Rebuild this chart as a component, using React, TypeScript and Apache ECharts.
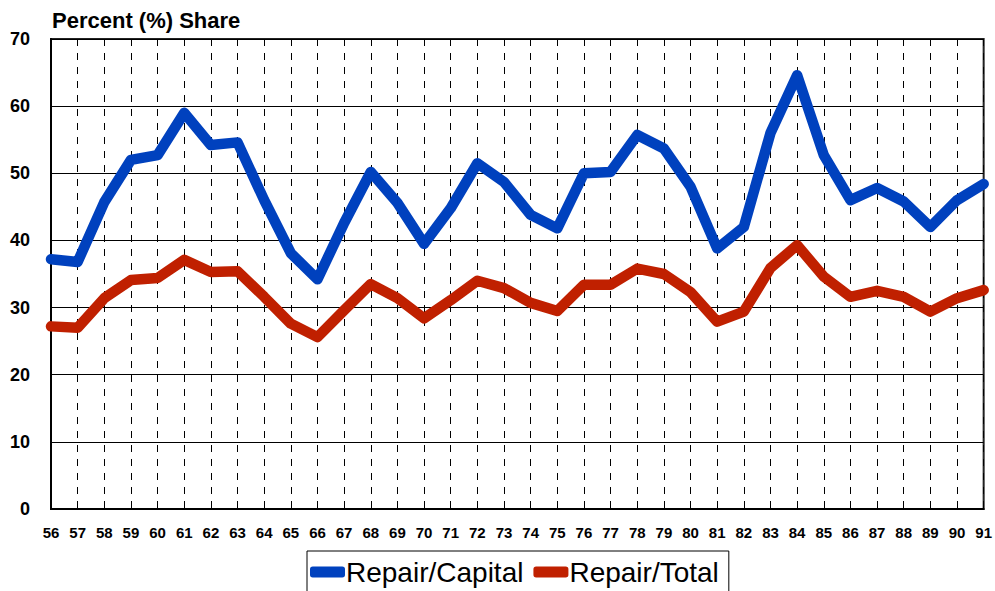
import React, { useEffect, useRef } from "react";
import * as echarts from "echarts";

const years = ["56","57","58","59","60","61","62","63","64","65","66","67","68","69","70","71","72","73","74","75","76","77","78","79","80","81","82","83","84","85","86","87","88","89","90","91"];
const repairCapital = [37.2,36.8,45.7,52.0,52.7,59.0,54.2,54.6,46.0,38.1,34.2,42.6,50.2,45.6,39.5,44.8,51.5,48.7,43.8,41.8,50.0,50.2,55.7,53.7,48.0,38.8,42.0,56.0,64.6,52.7,46.0,47.8,45.8,42.0,46.0,48.4];
const repairTotal = [27.2,27.0,31.4,34.1,34.4,37.1,35.3,35.4,31.6,27.6,25.6,29.6,33.5,31.4,28.4,31.1,34.0,32.9,30.7,29.5,33.4,33.4,35.8,35.0,32.3,27.9,29.4,35.9,39.3,34.6,31.6,32.5,31.6,29.4,31.4,32.6];
const yTicks = { min: 0, max: 70, interval: 10 };
const titleText = "Percent (%) Share";

export default function App() {
  const ref = useRef<HTMLDivElement>(null);
  useEffect(() => {
    if (!ref.current) return;
    const chart = echarts.init(ref.current, null, { renderer: "svg" });
    const font = "'Liberation Sans', Arial, sans-serif";
    chart.setOption({
      animation: false,
      backgroundColor: "#fff",
      title: {
        text: titleText,
        left: 47,
        top: 4,
        textStyle: { fontFamily: font, fontWeight: "bold", fontSize: 22, color: "#000" },
      },
      legend: {
        left: 307,
        top: 551,
        orient: "horizontal",
        borderColor: "#000",
        borderWidth: 1,
        borderRadius: 0,
        padding: [7, 10, 20, 3],
        itemGap: 10,
        itemWidth: 35,
        itemHeight: 11,
        icon: "roundRect",
        textStyle: { fontFamily: font, fontSize: 28, color: "#000", padding: [0, 0, 0, -4] },
        data: ["Repair/Capital", "Repair/Total"],
      },
      grid: {
        left: 51,
        right: 10,
        top: 39,
        bottom: 82,
        show: true,
        borderColor: "#222",
        borderWidth: 2,
        backgroundColor: "transparent",
      },
      xAxis: {
        type: "category",
        data: years,
        boundaryGap: false,
        axisLine: { show: true, lineStyle: { color: "#000", width: 2 } },
        axisTick: { show: false },
        axisLabel: { fontFamily: font, fontWeight: "bold", fontSize: 15, color: "#000", margin: 16, interval: 0 },
        splitLine: { show: true, lineStyle: { color: "#000", width: 1, type: [7, 7] } },
      },
      yAxis: {
        type: "value",
        min: yTicks.min,
        max: yTicks.max,
        interval: yTicks.interval,
        axisLine: { show: true, lineStyle: { color: "#000", width: 2 } },
        axisTick: { show: false },
        axisLabel: { fontFamily: font, fontWeight: "bold", fontSize: 18, color: "#000", margin: 21 },
        splitLine: { show: true, lineStyle: { color: "#000", width: 1 } },
      },
      series: [
        {
          name: "Repair/Capital",
          type: "line",
          data: repairCapital,
          symbol: "none",
          clip: false,
          color: "#0041BE",
          lineStyle: { width: 10.5, color: "#0041BE", cap: "round", join: "round" },
          z: 3,
        },
        {
          name: "Repair/Total",
          type: "line",
          data: repairTotal,
          symbol: "none",
          clip: false,
          color: "#C02000",
          lineStyle: { width: 10.5, color: "#C02000", cap: "round", join: "round" },
          z: 3,
        },
      ],
    });
    return () => chart.dispose();
  }, []);
  return (
    <div
      ref={ref}
      style={{ position: "fixed", left: 0, top: 0, width: 995, height: 591 }}
    />
  );
}
